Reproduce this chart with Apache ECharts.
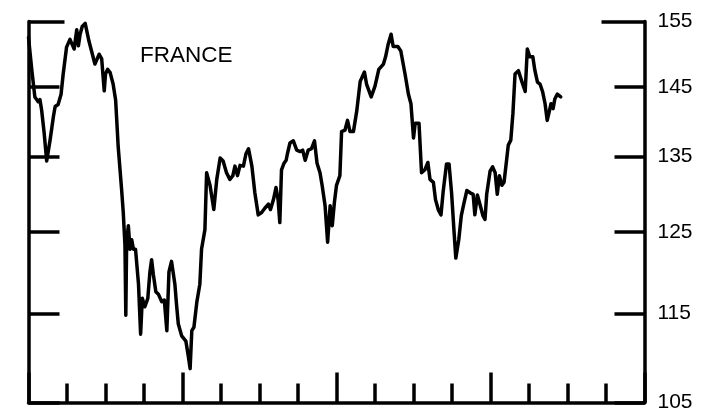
<!DOCTYPE html>
<html><head><meta charset="utf-8">
<script src="https://cdn.jsdelivr.net/npm/echarts@6/dist/echarts.min.js"></script>
<style>html,body{margin:0;padding:0;background:#fff}#c{width:701px;height:413px}</style>
</head><body><div id="c"></div>
<script>
const title = 'FRANCE';
const yTicks = [105, 115, 125, 135, 145, 155];
const yTopTick = [155];
const quarterDays = 91;
const yearDays = 364;
const totalDays = 1456;
const days = [0,8,15,23,27,31,37,43,51,59,
63,70,77,82,90,98,102,108,114,118,
122,127,134,138,143,149,157,161,167,173,
179,182,187,193,200,206,212,220,224,228,
230,232,236,240,244,248,253,260,265,269,
275,282,287,291,295,301,307,315,321,327,
332,338,346,350,354,362,372,378,382,386,
391,398,405,409,417,421,429,438,445,453,
460,468,476,483,488,494,500,508,514,520,
528,535,543,551,559,567,572,579,585,590,
594,598,604,609,612,618,626,634,642,648,
654,661,669,676,682,689,694,701,707,713,
718,723,728,736,740,748,754,760,768,776,
784,794,799,810,819,828,839,844,850,857,
862,873,880,890,898,904,910,914,923,929,
937,944,949,957,962,969,975,980,988,994,
1000,1006,1010,1017,1023,1028,1036,1044,1051,1055,
1061,1067,1074,1079,1083,1091,1097,1103,1108,1113,
1119,1124,1130,1134,1140,1145,1150,1158,1166,1174,
1179,1185,1192,1197,1203,1209,1215,1221,1226,1231,
1235,1240,1244,1250,1258];
const values = [152.5,147.4,143.5,142.8,143.1,141.6,138.3,134.4,137.3,140.7,
142.1,142.4,143.9,146.9,151.0,152.2,151.9,150.7,153.7,151.2,
153.0,154.2,154.7,154.5,151.9,150.4,148.4,148.7,149.9,149.2,
144.4,146.9,147.6,147.1,145.4,143.0,136.4,130.6,127.5,123.3,
114.8,123.7,125.8,122.8,124.0,122.8,122.8,118.5,112.6,116.8,
115.8,116.8,120.0,121.5,119.7,117.6,117.3,116.4,116.6,113.0,
120.0,121.3,118.5,116.0,113.8,112.4,111.8,110.0,108.7,113.0,
113.4,116.4,118.5,122.8,125.3,132.8,131.1,127.9,131.9,134.8,
134.4,132.8,131.9,132.4,133.7,132.4,133.8,133.7,135.4,136.1,
133.7,130.1,127.2,127.5,128.1,128.6,127.9,129.2,130.8,129.2,
126.2,133.2,134.1,134.5,135.4,136.9,137.2,135.9,135.7,135.9,
134.5,135.9,136.1,137.2,134.1,132.8,131.1,128.4,123.7,128.4,
125.8,128.8,131.1,132.4,138.5,138.7,140.1,138.5,138.5,141.5,
145.8,147.2,145.4,143.5,145.1,147.6,148.4,149.5,151.4,153.0,
151.1,151.1,150.4,146.9,143.9,142.5,137.6,139.7,139.7,132.8,
133.2,134.2,131.9,131.5,129.2,127.8,127.2,130.2,134.0,134.0,
130.1,124.9,121.7,124.0,127.1,128.4,130.4,130.1,129.9,127.2,
129.8,128.6,127.1,126.6,129.9,133.0,133.6,132.8,129.9,132.4,
131.1,131.5,134.5,136.6,137.3,141.1,146.9,147.4,145.8,144.3,
150.7,149.5,149.5,147.4,145.7,145.4,144.3,142.5,140.1,141.4,
142.5,141.8,143.2,143.9,143.5];

const INK = '#000';
const FONT = '"Liberation Sans", Arial, Helvetica, sans-serif';
const chart = echarts.init(document.getElementById('c'), null, {renderer: 'canvas'});

function yAx(position, tickVals, tickLen, showLine, showLabel) {
  return {
    type: 'log', logBase: 10, min: 105, max: 155, position: position,
    axisLine: {show: showLine, onZero: false, lineStyle: {color: INK, width: 3.5}},
    axisTick: {show: true, inside: true, length: tickLen, customValues: tickVals,
               lineStyle: {color: INK, width: 3.5}},
    axisLabel: {show: showLabel, customValues: tickVals, margin: 13, color: INK,
                fontSize: 21, fontFamily: FONT},
    splitLine: {show: false}, minorTick: {show: false}
  };
}
function xAx(interval, tickLen, showLine) {
  return {
    type: 'value', min: 0, max: totalDays, interval: interval, position: 'bottom',
    axisLine: {show: showLine, onZero: false, lineStyle: {color: INK, width: 3.5}},
    axisTick: {show: true, inside: true, length: tickLen, lineStyle: {color: INK, width: 3.5}},
    axisLabel: {show: false}, splitLine: {show: false}
  };
}

chart.setOption({
  animation: false,
  backgroundColor: '#fff',
  title: {text: title, left: 140, top: 44, padding: 0,
          textStyle: {fontSize: 22.5, fontWeight: 'normal', color: INK, fontFamily: FONT}},
  grid: {left: 28.5, right: 56.5, top: 21.5, bottom: 6.5, containLabel: false},
  xAxis: [xAx(quarterDays, 19, true), xAx(yearDays, 30, false)],
  yAxis: [
    yAx('right', yTicks, 30, true, true),
    yAx('left', yTicks, 31, true, false),
    yAx('left', yTopTick, 36, false, false),
    yAx('right', yTopTick, 43, false, false)
  ],
  series: [{
    type: 'line', xAxisIndex: 0, yAxisIndex: 0,
    data: days.map((d, i) => [d, values[i]]),
    showSymbol: false, symbol: 'none',
    lineStyle: {color: INK, width: 3.5, join: 'round', cap: 'round'},
    emphasis: {disabled: true}
  }]
});
</script></body></html>
